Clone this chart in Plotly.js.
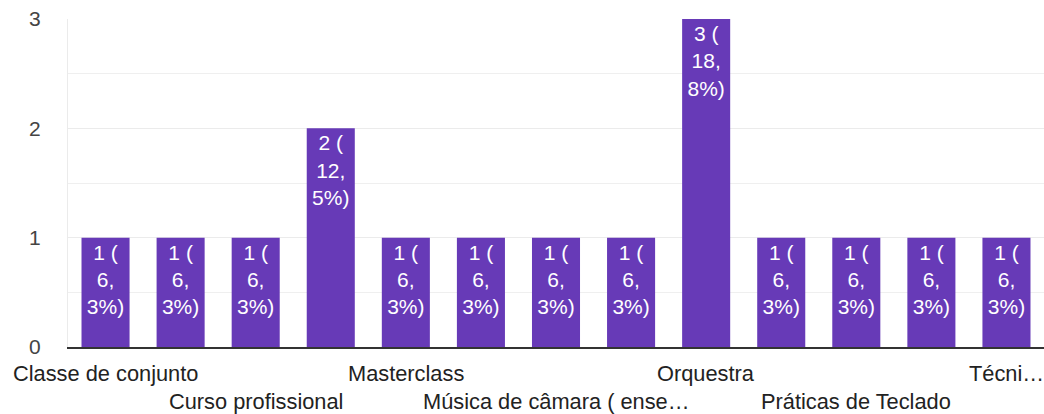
<!DOCTYPE html>
<html>
<head>
<meta charset="utf-8">
<script src="https://cdn.plot.ly/plotly-3.0.1.min.js"></script>
<style>
  html, body { margin: 0; padding: 0; background: #fff; }
  #chart { width: 1044px; height: 414px; }
</style>
</head>
<body>
<div id="chart"></div>
<script>
// Data (Google Forms style bar chart)
const labels = [
  "Classe de conjunto", "", "Curso profissional", "", "Masterclass", "",
  "Música de câmara ( ense…", "", "Orquestra", "", "Práticas de Teclado", "", "Técni…"
];
const counts = [1, 1, 1, 2, 1, 1, 1, 1, 3, 1, 1, 1, 1];
const yTickVals = [0, 1, 2, 3];
const yTickText = ["0", "1", "2", "3"];

const total = counts.reduce((a, b) => a + b, 0);
const positions = counts.map((_, i) => i);
const barText = counts.map(v => {
  const p = (v / total * 100).toFixed(1).split(".");
  return v + " (<br>" + p[0] + ",<br>" + p[1] + "%)";
});

const FONT = "Liberation Sans, Arial, Helvetica, sans-serif";

const trace = {
  type: "bar",
  x: positions,
  y: counts,
  text: barText,
  textposition: "inside",
  insidetextanchor: "end",
  constraintext: "none",
  textangle: 0,
  textfont: { family: FONT, size: 21, color: "#ffffff" },
  marker: { color: "#673ab7", line: { width: 0 } },
  hoverinfo: "none"
};

const annotations = [];
let k = 0;
labels.forEach((lab, i) => {
  if (!lab) return;
  const row = k % 2;
  k++;
  annotations.push({
    x: i, xref: "x",
    y: 0, yref: "paper",
    text: lab,
    showarrow: false,
    xanchor: "center",
    yanchor: "middle",
    yshift: row === 0 ? -26 : -54,
    font: { family: FONT, size: 21.8, color: "#222222" }
  });
});

const layout = {
  width: 1044,
  height: 414,
  margin: { l: 68, r: 0, t: 19, b: 67, pad: 0 },
  paper_bgcolor: "#ffffff",
  plot_bgcolor: "#ffffff",
  showlegend: false,
  bargap: 0.36,
  font: { family: FONT, size: 21, color: "#333333" },
  xaxis: {
    range: [-0.5, 12.5],
    showticklabels: false,
    ticks: "",
    showgrid: false,
    zeroline: false,
    showline: true,
    linecolor: "#333333",
    linewidth: 1.5,
    fixedrange: true
  },
  yaxis: {
    range: [0, 3],
    tickvals: yTickVals,
    ticktext: yTickText,
    ticks: "",
    ticklabelstandoff: 22,
    tickfont: { family: FONT, size: 21, color: "#444444" },
    showgrid: true,
    gridcolor: "#ebebeb",
    gridwidth: 1,
    minor: { dtick: 0.5, showgrid: true, gridcolor: "#efefef", gridwidth: 1 },
    zeroline: false,
    showline: true,
    linecolor: "#ebebeb",
    linewidth: 1,
    fixedrange: true
  },
  annotations: annotations
};

Plotly.newPlot("chart", [trace], layout, { displayModeBar: false, staticPlot: true });
</script>
</body>
</html>
